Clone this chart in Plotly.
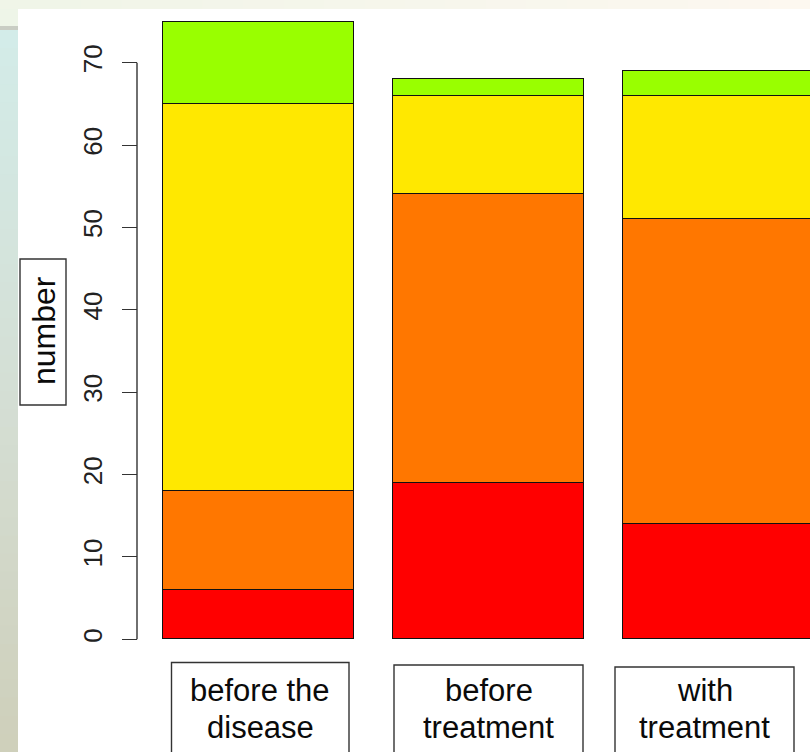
import plotly.graph_objects as go

# ---- data ----
categories = ["before the disease", "before treatment", "with treatment"]
label_lines = [["before the", "disease"], ["before", "treatment"], ["with", "treatment"]]
red_vals = [6, 19, 14]
orange_vals = [12, 35, 37]
yellow_vals = [47, 12, 15]
green_vals = [10, 2, 3]
y_ticks = [0, 10, 20, 30, 40, 50, 60, 70]
y_axis_title = "number"

# ---- styling ----
series_colors = ["#FF0000", "#FF7700", "#FFE800", "#99FF00"]
FONT = "Liberation Sans, Arial, sans-serif"
W, H = 810, 752


def px(xp):
    return xp / W


def py(yp):
    return 1 - yp / H


x_pos = list(range(len(categories)))

fig = go.Figure()
for vals, col in zip([red_vals, orange_vals, yellow_vals, green_vals], series_colors):
    fig.add_trace(go.Bar(
        x=x_pos, y=vals, width=0.83,
        marker=dict(color=col, line=dict(color="#111111", width=1.5)),
        hoverinfo="skip", showlegend=False,
    ))

shapes = []
# decorative page background strips
n = 40
top_c = (0xD3, 0xEC, 0xE9)
mid_c = (0xD5, 0xDF, 0xD5)
bot_c = (0xCF, 0xD0, 0xBB)
y_start = 30
for i in range(n):
    t = i / (n - 1)
    if t < 0.5:
        a, b, u = top_c, mid_c, t / 0.5
    else:
        a, b, u = mid_c, bot_c, (t - 0.5) / 0.5
    c = tuple(int(a[k] + (b[k] - a[k]) * u) for k in range(3))
    y0p = y_start + (H - y_start) * i / n
    y1p = y_start + (H - y_start) * (i + 1) / n + 1
    shapes.append(dict(type="rect", xref="paper", yref="paper", layer="below",
                       x0=0, x1=px(18), y0=py(y1p), y1=py(y0p),
                       fillcolor="rgb(%d,%d,%d)" % c, line=dict(width=0)))
shapes.append(dict(type="rect", xref="paper", yref="paper", layer="below",
                   x0=0, x1=px(18), y0=py(26), y1=py(9),
                   fillcolor="#EEF5E8", line=dict(width=0)))
shapes.append(dict(type="rect", xref="paper", yref="paper", layer="below",
                   x0=0, x1=px(18), y0=py(30), y1=py(26),
                   fillcolor="#C9CDC4", line=dict(width=0)))
# top strip
m = 20
for i in range(m):
    t = i / (m - 1)
    a, b = (0xF0, 0xF5, 0xE8), (0xFD, 0xF8, 0xF0)
    c = tuple(int(a[k] + (b[k] - a[k]) * t) for k in range(3))
    shapes.append(dict(type="rect", xref="paper", yref="paper", layer="below",
                       x0=i / m, x1=(i + 1) / m + 0.002, y0=py(9), y1=1,
                       fillcolor="rgb(%d,%d,%d)" % c, line=dict(width=0)))

# y axis line (R style, only spans tick range)
shapes.append(dict(type="line", xref="paper", yref="y",
                   x0=px(137), x1=px(137), y0=y_ticks[0], y1=y_ticks[-1],
                   line=dict(color="#333333", width=1.4)))
# box around y axis title
shapes.append(dict(type="rect", xref="paper", yref="paper",
                   x0=px(20), x1=px(66), y0=py(405), y1=py(259),
                   line=dict(color="#333333", width=1.4), fillcolor="rgba(0,0,0,0)"))

# category label boxes
boxes = [(171.5, 349, 662.5), (394, 583, 665), (615, 794, 667)]
annotations = []
for (bx0, bx1, by0), lines in zip(boxes, label_lines):
    shapes.append(dict(type="rect", xref="paper", yref="paper",
                       x0=px(bx0), x1=px(bx1), y0=-0.05, y1=py(by0),
                       line=dict(color="#333333", width=1.4), fillcolor="rgba(0,0,0,0)"))
    cx = (bx0 + bx1) / 2
    for j, ln in enumerate(lines):
        annotations.append(dict(text=ln, xref="paper", yref="paper",
                                x=px(cx), y=py(690 + 37 * j),
                                xanchor="center", yanchor="middle", showarrow=False,
                                font=dict(family=FONT, size=31, color="#0a0a0a")))

annotations.append(dict(text=y_axis_title, xref="paper", yref="paper",
                        x=px(44), y=py(331), textangle=-90,
                        xanchor="center", yanchor="middle", showarrow=False,
                        font=dict(family=FONT, size=32, color="#0a0a0a")))

fig.update_layout(
    width=W, height=H,
    margin=dict(l=0, r=0, t=0, b=0),
    barmode="stack", bargap=0,
    paper_bgcolor="white", plot_bgcolor="rgba(0,0,0,0)",
    font=dict(family=FONT),
    xaxis=dict(domain=[0, 1], range=[-1.1239, 2.3978], visible=False, fixedrange=True),
    yaxis=dict(range=[-13.68, 77.61], anchor="free", position=px(137),
               tickmode="array", tickvals=y_ticks, ticktext=[str(v) for v in y_ticks],
               ticks="outside", ticklen=15, tickwidth=1.4, tickcolor="#333333",
               showgrid=False, zeroline=False, showline=False,
               tickangle=-90, ticklabelstandoff=10,
               tickfont=dict(family=FONT, size=26, color="#222222"), fixedrange=True),
    shapes=shapes,
    annotations=annotations,
)

fig.write_html("out.html", config={"displayModeBar": False},
               post_script="document.body.style.margin='0';document.body.style.padding='0';")
